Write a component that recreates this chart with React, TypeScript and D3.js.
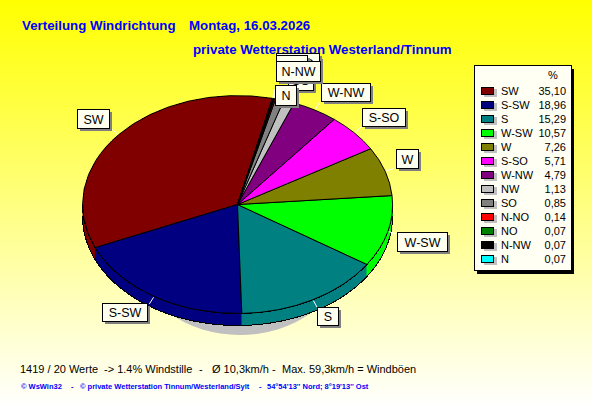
import * as d3 from "d3";

const directions = ["SW", "S-SW", "S", "W-SW", "W", "S-SO", "W-NW", "NW", "SO", "N-NO", "NO", "N-NW", "N"];
const shares = [35.1, 18.96, 15.29, 10.57, 7.26, 5.71, 4.79, 1.13, 0.85, 0.14, 0.07, 0.07, 0.07];
const shareLabels = ["35,10", "18,96", "15,29", "10,57", "7,26", "5,71", "4,79", "1,13", "0,85", "0,14", "0,07", "0,07", "0,07"];
const colours = ["#800000", "#000080", "#008080", "#00ff00", "#808000", "#ff00ff", "#800080", "#c0c0c0", "#808080", "#ff0000", "#008000", "#000000", "#00ffff"];

const width = 592;
const height = 407;
const cx = 237.5;
const cy = 204.5;
const rx = 155;
const ry = 109;
const depth = 12;
const startAngle = (13 * Math.PI) / 180;

// label boxes: [left, top, width, height], drawn in this order
const labelBoxes: Record<string, [number, number, number, number]> = {
  SW: [77, 109, 32, 19],
  "S-SW": [102, 303, 45, 18],
  S: [317, 307, 21, 18],
  "W-SW": [397, 232, 50, 19],
  W: [396, 149, 22, 19],
  "S-SO": [362, 108, 43, 18],
  "W-NW": [321, 83, 49, 18],
  SO: [288, 70, 25, 20],
  NO: [296, 56, 24, 20],
  "N-NO": [276, 53, 43, 20],
  NW: [276, 55, 31, 20],
  "N-NW": [276, 61, 44, 20],
  N: [275, 85, 21, 20],
};

const arcs = d3
  .pie<number>()
  .sort(null)
  .startAngle(startAngle)
  .endAngle(startAngle - 2 * Math.PI)(shares);

const ex = (a: number) => cx + rx * Math.sin(a);
const ey = (a: number) => cy - ry * Math.cos(a);

// d3 arc on a unit circle, stretched to the ellipse
const unitArc = d3.arc<d3.PieArcDatum<number>>().innerRadius(0).outerRadius(1);

function sidePath(a0: number, a1: number) {
  const lo = Math.min(a0, a1);
  const hi = Math.max(a0, a1);
  const pts: [number, number][] = [];
  // only the front half of the rim can be seen
  for (let k = -2; k <= 0; k++) {
    const from = Math.max(lo, Math.PI / 2 + k * 2 * Math.PI);
    const to = Math.min(hi, (3 * Math.PI) / 2 + k * 2 * Math.PI);
    if (from >= to) continue;
    const angles = d3.range(from, to, 0.01).concat(to);
    const front = angles.map((a) => [ex(a), ey(a)] as [number, number]);
    const back = angles.map((a) => [ex(a), ey(a) + depth] as [number, number]).reverse();
    pts.push(...front, ...back);
  }
  return pts.length ? d3.line()(pts) + "Z" : "";
}

const frontAngles = d3.range(Math.PI / 2, (3 * Math.PI) / 2 + 0.01, 0.01);
const rimEdge = d3.line()(frontAngles.map((a) => [ex(a), ey(a)] as [number, number])) ?? "";
const rimBottom = d3.line()(frontAngles.map((a) => [ex(a), ey(a) + depth] as [number, number])) ?? "";

const legendTop = 65;
const rowStep = 14;

export default function App() {
  const sans = "'Liberation Sans', Arial, sans-serif";
  return (
    <svg width={width} height={height} style={{ position: "absolute", left: 0, top: 0 }} fontFamily={sans}>
      <defs>
        <linearGradient id="bg" x1="0" y1="0" x2="0" y2="1">
          <stop offset="0" stopColor="#ffff00" />
          <stop offset="1" stopColor="#ffffff" />
        </linearGradient>
      </defs>
      <rect width={width} height={height} fill="url(#bg)" />

      <g fill="#0000ff" fontWeight={700} fontSize={13.3}>
        <text x={22} y={30}>Verteilung Windrichtung</text>
        <text x={189} y={30}>Montag, 16.03.2026</text>
        <text x={193} y={54}>private Wetterstation Westerland/Tinnum</text>
      </g>

      {/* shadow under the pie */}
      <ellipse cx={240} cy={260} rx={100} ry={75} fill="#c0c0c0" />

      <g shapeRendering="crispEdges">
        {arcs.map((d, i) => (
          <path
            key={"side" + i}
            d={sidePath(d.startAngle, d.endAngle)}
            fill={colours[i]}
            stroke={colours[i]}
            strokeWidth={0.5}
          />
        ))}
        <path d={rimBottom} fill="none" stroke="#000" />
        <path d={rimEdge} fill="none" stroke="#000" />
        <g transform={`translate(${cx},${cy}) scale(${rx},${ry})`}>
          {arcs.map((d, i) => (
            <path
              key={"top" + i}
              d={unitArc(d) ?? ""}
              fill={colours[i]}
              stroke="#000"
              strokeWidth={1}
              vectorEffect="non-scaling-stroke"
            />
          ))}
        </g>
      </g>

      {/* leader lines */}
      {arcs.map((d, i) => {
        const mid = (d.startAngle + d.endAngle) / 2;
        return (
          <line
            key={"lead" + i}
            x1={cx + (rx + 1) * Math.sin(mid)}
            y1={cy - (ry + 1) * Math.cos(mid)}
            x2={cx + (rx + 9) * Math.sin(mid)}
            y2={cy - (ry + 9) * Math.cos(mid)}
            stroke="#fff"
          />
        );
      })}

      {Object.keys(labelBoxes).map((name) => {
        const [x, y, w, h] = labelBoxes[name];
        return (
          <g key={"label" + name}>
            <rect x={x + 3} y={y + 3} width={w} height={h} fill="#808080" />
            <rect x={x + 0.5} y={y + 0.5} width={w} height={h} fill="#fffff0" stroke="#000" />
            <text x={x + w / 2 + 0.5} y={y + h / 2 + 5} textAnchor="middle" fontSize={12.5} fill="#000">
              {name}
            </text>
          </g>
        );
      })}

      {/* legend */}
      <rect x={477} y={legendTop + 4} width={97} height={205} fill="#000" />
      <rect x={474.5} y={legendTop + 0.5} width={97} height={205} fill="#fffff4" stroke="#000" />
      <text x={553} y={79} textAnchor="middle" fontSize={11}>%</text>
      {directions.map((name, i) => {
        const y = 91 + i * rowStep;
        return (
          <g key={"row" + name} fontSize={11}>
            <rect x={484} y={y - 2} width={13} height={8} fill="#c0c0c0" />
            <rect x={481.5} y={y - 3.5} width={12} height={7} fill={colours[i]} stroke="#000" />
            <text x={501} y={y + 4}>{name}</text>
            <text x={566} y={y + 4} textAnchor="end">{shareLabels[i]}</text>
          </g>
        );
      })}

      <g fontSize={11} fill="#000">
        <text x={20} y={373}>1419 / 20 Werte</text>
        <text x={104} y={373}>-&gt; 1.4% Windstille</text>
        <text x={199} y={373}>-</text>
        <text x={212} y={373}>Ø 10,3km/h</text>
        <text x={272} y={373}>-</text>
        <text x={282} y={373}>Max. 59,3km/h = Windböen</text>
      </g>
      <g fontSize={7.5} fontWeight={700} fill="#0000ff">
        <text x={21} y={389}>© WsWin32</text>
        <text x={71} y={389}>-</text>
        <text x={80} y={389}>© private Wetterstation Tinnum/Westerland/Sylt</text>
        <text x={259} y={389}>-</text>
        <text x={267} y={389}>54°54'13'' Nord; 8°19'13'' Ost</text>
      </g>
    </svg>
  );
}
